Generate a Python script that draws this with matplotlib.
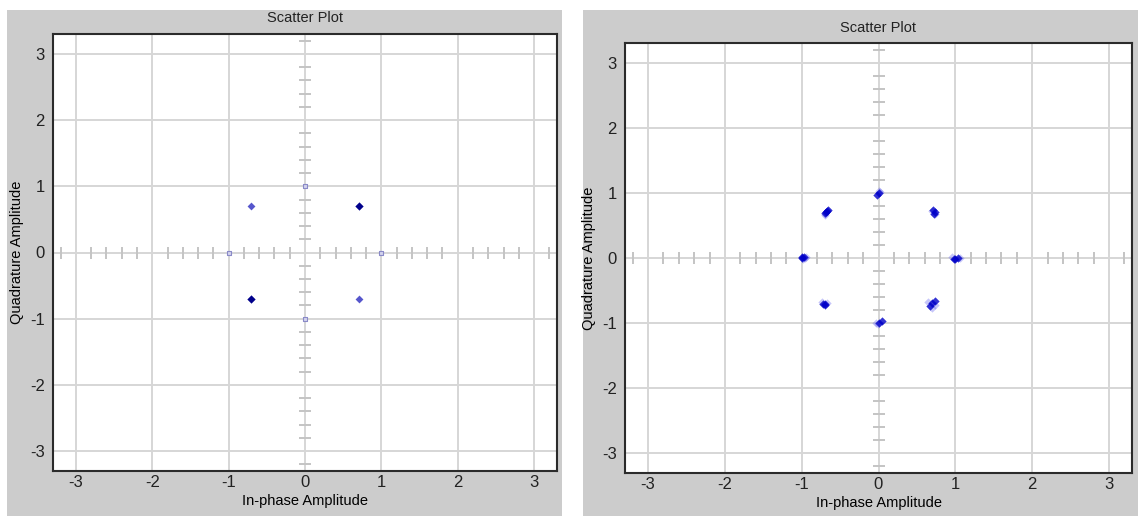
"""Two constellation scatter plots side by side (ideal vs received),
styled like an instrument front panel: grey bezel, white plot area,
grey grid with minor ticks along the centre lines."""
import matplotlib
matplotlib.use("Agg")
import matplotlib.pyplot as plt
from matplotlib.patches import Rectangle
import numpy as np

# ideal constellation (left)
ideal_dark_i = [0.707, -0.707]
ideal_dark_q = [0.707, -0.707]
ideal_mid_i = [-0.707, 0.707]
ideal_mid_q = [0.707, -0.707]
ideal_sq_i = [1.0, -1.0, 0.0, 0.0]
ideal_sq_q = [0.0, 0.0, 1.0, -1.0]

# received symbols (right)
rx_dark_i = [-0.66, -0.68, -0.69, -0.67, 0.71, 0.73, 0.72, -0.02, 0.0,
             -1.0, -0.97, -0.99, 0.98, 1.0, 1.04, -0.72, -0.69, -0.70,
             0.67, 0.73, 0.69, 0.04, 0.01]
rx_dark_q = [0.74, 0.71, 0.69, 0.72, 0.73, 0.70, 0.68, 0.97, 1.0,
             0.02, 0.01, 0.0, -0.02, -0.01, 0.0, -0.71, -0.72, -0.70,
             -0.74, -0.66, -0.69, -0.97, -0.99]
rx_light_i = [-0.69, -0.70, 0.69, 0.74, 0.01, 0.02, -0.96, -0.95, -0.98,
              1.06, 0.96, -0.73, -0.67, 0.65, 0.74, 0.70, -0.03, -0.01]
rx_light_q = [0.66, 0.68, 0.72, 0.68, 1.03, 1.01, 0.0, 0.02, -0.01,
              0.0, 0.01, -0.68, -0.69, -0.67, -0.72, -0.76, -1.0, -1.02]

TICKS = [-3, -2, -1, 0, 1, 2, 3]
LIM = 3.3
BEZEL, GRID, MINOR, FRAME = "#cccccc", "#d6d6d6", "#c4c4c4", "#2b2b2b"

plt.rcParams.update({
    "font.family": ["Liberation Sans", "DejaVu Sans"],
    "text.color": "#222222",
    "axes.unicode_minus": False,
})

fig = plt.figure(figsize=(11.39, 5.16), dpi=100)
fig.patch.set_facecolor("white")
for x0 in (7 / 1139, 583 / 1139):
    fig.patches.append(Rectangle((x0, 0), 0.4875, 0.9806, transform=fig.transFigure,
                                 facecolor=BEZEL, edgecolor="none", zorder=-5))


def panel(rect, title_pad):
    ax = fig.add_axes(rect)
    ax.set_facecolor("white")
    ax.set_xlim(-LIM, LIM)
    ax.set_ylim(-LIM, LIM)
    ax.set_xticks(TICKS)
    ax.set_yticks(TICKS)
    ax.grid(True, color=GRID, lw=1.4)
    ax.set_axisbelow(True)
    ax.tick_params(length=0, labelsize=12, colors="#222222")
    ax.tick_params(axis="x", pad=3)
    ax.tick_params(axis="y", pad=6)
    for s in ax.spines.values():
        s.set_color(FRAME)
        s.set_linewidth(1.5)
    # minor ticks along the centre lines
    minor = [t for t in np.round(np.arange(-3.2, 3.21, 0.2), 1) if t % 1]
    ax.plot(minor, [0] * len(minor), ls="none", marker="|", ms=8.5, mew=1.4,
            color=MINOR, zorder=1)
    ax.plot([0] * len(minor), minor, ls="none", marker="_", ms=8.5, mew=1.4,
            color=MINOR, zorder=1)
    ax.set_title("Scatter Plot", fontsize=10.5, pad=title_pad)
    ax.set_xlabel("In-phase Amplitude", fontsize=10.5, labelpad=3)
    ax.set_ylabel("Quadrature Amplitude", fontsize=10.5, labelpad=4)
    return ax


ax1 = panel([53 / 1139, 45 / 516, 504 / 1139, 437 / 516], 9)
ax1.scatter(ideal_sq_i, ideal_sq_q, marker="s", s=12, facecolor="#d4d4ee",
            edgecolor="#8a8ac8", linewidth=0.8, zorder=3)
ax1.scatter(ideal_mid_i, ideal_mid_q, marker="D", s=16, color="#5656cc",
            linewidth=0, zorder=3)
ax1.scatter(ideal_dark_i, ideal_dark_q, marker="D", s=18, color="#00008b",
            linewidth=0, zorder=3)

ax2 = panel([625 / 1139, 43 / 516, 507 / 1139, 430 / 516], 8)
ax2.scatter(rx_light_i, rx_light_q, marker="D", s=18, color="#5c5cf0",
            alpha=0.35, linewidth=0, zorder=3)
ax2.scatter(rx_dark_i, rx_dark_q, marker="D", s=18, color="#0000c8",
            alpha=0.8, linewidth=0, zorder=3)

fig.savefig("out.png", dpi=100)
